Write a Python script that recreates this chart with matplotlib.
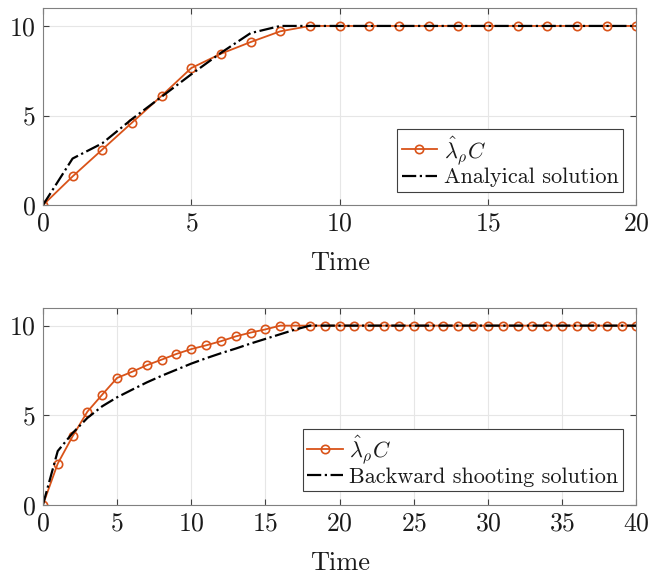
import matplotlib
matplotlib.use("Agg")
import matplotlib.pyplot as plt

plt.rcParams['font.family'] = 'serif'
plt.rcParams['font.serif'] = ['cmr10']
plt.rcParams['mathtext.fontset'] = 'cm'
plt.rcParams['axes.formatter.use_mathtext'] = True

ORANGE = '#D95319'

# top panel: 0..20
t_top = list(range(0, 21))
lam_top = [0, 1.6, 3.1, 4.6, 6.1, 7.65, 8.45, 9.1, 9.7, 10, 10,
           10, 10, 10, 10, 10, 10, 10, 10, 10, 10]
t_anal = [0, 1, 2, 3, 4, 5, 6, 7, 8, 20]
anal = [0, 2.6, 3.45, 4.8, 6.05, 7.3, 8.5, 9.6, 10, 10]

# bottom panel: 0..40
t_bot = list(range(0, 41))
lam_bot = [0, 2.3, 3.82, 5.2, 6.15, 7.08, 7.42, 7.79, 8.1, 8.42, 8.69,
           8.9, 9.13, 9.4, 9.61, 9.79, 10, 10, 10, 10, 10] + [10] * 20
t_shoot = [0, 1, 2, 3, 4, 5, 6, 7, 8, 9, 10, 11, 12, 13, 14, 15, 16, 17, 18, 40]
shoot = [0, 3.0, 4.0, 4.85, 5.5, 6.0, 6.42, 6.83, 7.2, 7.54, 7.88,
         8.18, 8.46, 8.72, 9.0, 9.26, 9.52, 9.78, 10, 10]

lam_label = r'$\hat{\lambda}_\rho C$'


def style_axes(ax, xmax, xticks):
    ax.set_xlim(0, xmax)
    ax.set_ylim(0, 11)
    ax.set_xticks(xticks)
    ax.set_yticks([0, 5, 10])
    ax.grid(True, color='#e6e6e6', linewidth=0.8)
    ax.set_axisbelow(True)
    for s in ax.spines.values():
        s.set_color('#808080')
        s.set_linewidth(0.8)
    ax.tick_params(direction='in', top=True, right=True, length=4,
                   labelsize=18.5, color='#404040', labelcolor='#1a1a1a', pad=5)
    ax.set_xlabel('Time', fontsize=19, labelpad=11, color='#1a1a1a')


fig = plt.figure(figsize=(6.5, 5.73), dpi=100)
ax1 = fig.add_axes([0.066, 0.642, 0.913, 0.344])
ax2 = fig.add_axes([0.066, 0.119, 0.913, 0.344])

ax1.plot(t_top, lam_top, '-o', color=ORANGE, lw=1.3, ms=6,
         mfc='none', mew=1.2, label=lam_label)
ax1.plot(t_anal, anal, '-.', color='black', lw=1.6, label='Analyical solution')
style_axes(ax1, 20, [0, 5, 10, 15, 20])

ax2.plot(t_bot, lam_bot, '-o', color=ORANGE, lw=1.3, ms=6,
         mfc='none', mew=1.2, label=lam_label)
ax2.plot(t_shoot, shoot, '-.', color='black', lw=1.6,
         label='Backward shooting solution')
style_axes(ax2, 40, list(range(0, 41, 5)))

for ax in (ax1, ax2):
    leg = ax.legend(loc='lower right', fontsize=16, numpoints=1,
                    fancybox=False, framealpha=1, edgecolor='#404040',
                    borderaxespad=0.6, handlelength=1.6, handletextpad=0.3,
                    borderpad=0.2, labelspacing=0.1)
    leg.get_frame().set_linewidth(0.8)
    for txt in leg.get_texts():
        txt.set_color('#1a1a1a')

fig.savefig('out.png', dpi=100)
